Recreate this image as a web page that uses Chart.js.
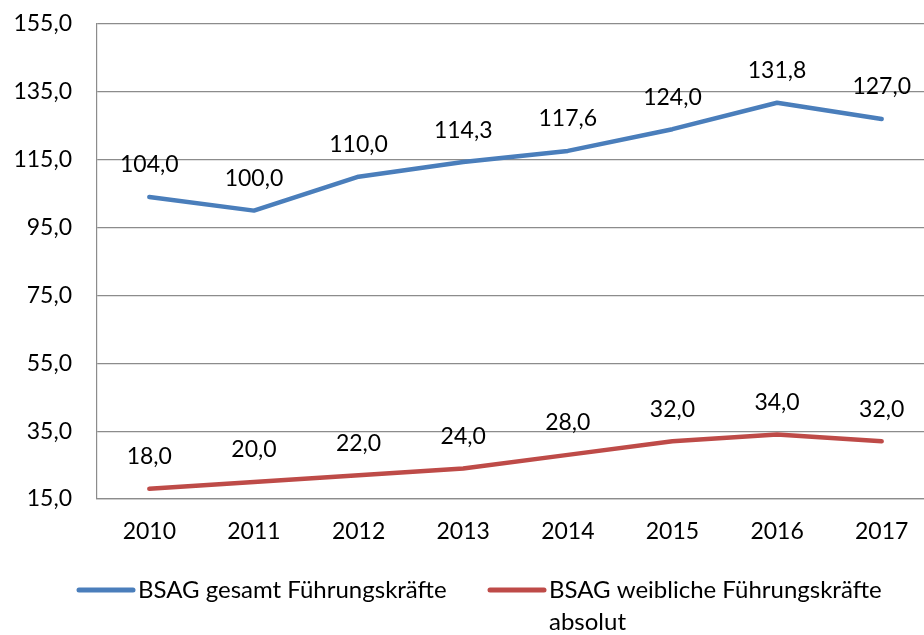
<!DOCTYPE html>
<html>
<head>
<meta charset="utf-8">
<script src="https://cdn.jsdelivr.net/npm/chart.js@4/dist/chart.umd.min.js"></script>
<style>
  html, body { margin: 0; padding: 0; background: #fff; overflow: hidden; }
  #wrap { position: absolute; left: 0; top: 0; width: 934px; height: 635px; }
</style>
</head>
<body>
<div id="wrap"><canvas id="c" width="934" height="635"></canvas></div>
<script>
const years = ['2010', '2011', '2012', '2013', '2014', '2015', '2016', '2017'];
const gesamt = [104.0, 100.0, 110.0, 114.3, 117.6, 124.0, 131.8, 127.0];
const weiblich = [18.0, 20.0, 22.0, 24.0, 28.0, 32.0, 34.0, 32.0];
const seriesNames = ['BSAG gesamt Führungskräfte', ['BSAG weibliche Führungskräfte', 'absolut']];
const yMin = 15, yMax = 155, yStep = 20;

const FONT = 'Lato, "Open Sans", sans-serif';
const FSIZE = 23;
const LSIZE = 24;
const fmt = v => Number(v).toFixed(1).replace('.', ',');

const dataLabels = {
  id: 'dataLabels',
  afterDatasetsDraw(chart) {
    const ctx = chart.ctx;
    ctx.save();
    ctx.font = FSIZE + 'px ' + FONT;
    ctx.fillStyle = '#000';
    ctx.textAlign = 'center';
    ctx.textBaseline = 'middle';
    chart.data.datasets.forEach((ds, i) => {
      const meta = chart.getDatasetMeta(i);
      meta.data.forEach((pt, j) => {
        ctx.fillText(fmt(ds.data[j]), pt.x, pt.y - 32);
      });
    });
    ctx.restore();
  }
};

const customLegend = {
  id: 'customLegend',
  afterDraw(chart) {
    const ctx = chart.ctx;
    const ca = chart.chartArea;
    const y = ca.bottom + 91;
    const items = [
      { x: 79, color: chart.data.datasets[0].borderColor, text: seriesNames[0] },
      { x: 490, color: chart.data.datasets[1].borderColor, text: seriesNames[1] }
    ];
    ctx.save();
    ctx.font = LSIZE + 'px ' + FONT;
    ctx.textAlign = 'left';
    ctx.textBaseline = 'middle';
    items.forEach(it => {
      ctx.strokeStyle = it.color;
      ctx.lineWidth = 5;
      ctx.lineCap = 'round';
      ctx.beginPath();
      ctx.moveTo(it.x, y);
      ctx.lineTo(it.x + 54, y);
      ctx.stroke();
      ctx.fillStyle = '#000';
      const lines = Array.isArray(it.text) ? it.text : [it.text];
      lines.forEach((t, k) => ctx.fillText(t, it.x + 59, y + k * 32));
    });
    ctx.restore();
  }
};

new Chart(document.getElementById('c'), {
  type: 'line',
  data: {
    labels: years,
    datasets: [
      { label: 'BSAG gesamt Führungskräfte', data: gesamt, borderColor: '#4A7EBB', backgroundColor: '#4A7EBB',
        borderWidth: 4.5, pointRadius: 0, tension: 0, borderCapStyle: 'round', borderJoinStyle: 'round' },
      { label: 'BSAG weibliche Führungskräfte absolut', data: weiblich, borderColor: '#BE4B48', backgroundColor: '#BE4B48',
        borderWidth: 4.5, pointRadius: 0, tension: 0, borderCapStyle: 'round', borderJoinStyle: 'round' }
    ]
  },
  options: {
    responsive: false,
    animation: false,
    devicePixelRatio: 1,
    layout: { padding: { top: 24, left: 0, right: 0, bottom: 76 } },
    plugins: { legend: { display: false }, tooltip: { enabled: false } },
    scales: {
      x: {
        offset: true,
        grid: { display: false, drawTicks: false },
        border: { display: true, color: '#8c8c8c', width: 1.2 },
        ticks: { color: '#000', font: { family: FONT, size: FSIZE }, padding: 19, maxRotation: 0 },
        afterFit(scale) { scale.height = 60; }
      },
      y: {
        min: yMin, max: yMax,
        grid: { color: '#8c8c8c', lineWidth: 1.2, drawTicks: false },
        border: { display: true, color: '#8c8c8c', width: 1.2 },
        ticks: { stepSize: yStep, color: '#000', font: { family: FONT, size: FSIZE }, padding: 25,
          callback: v => fmt(v) },
        afterFit(scale) { scale.width = 97; scale.paddingTop = 0; scale.paddingBottom = 0; }
      }
    }
  },
  plugins: [dataLabels, customLegend]
});
</script>
</body>
</html>
